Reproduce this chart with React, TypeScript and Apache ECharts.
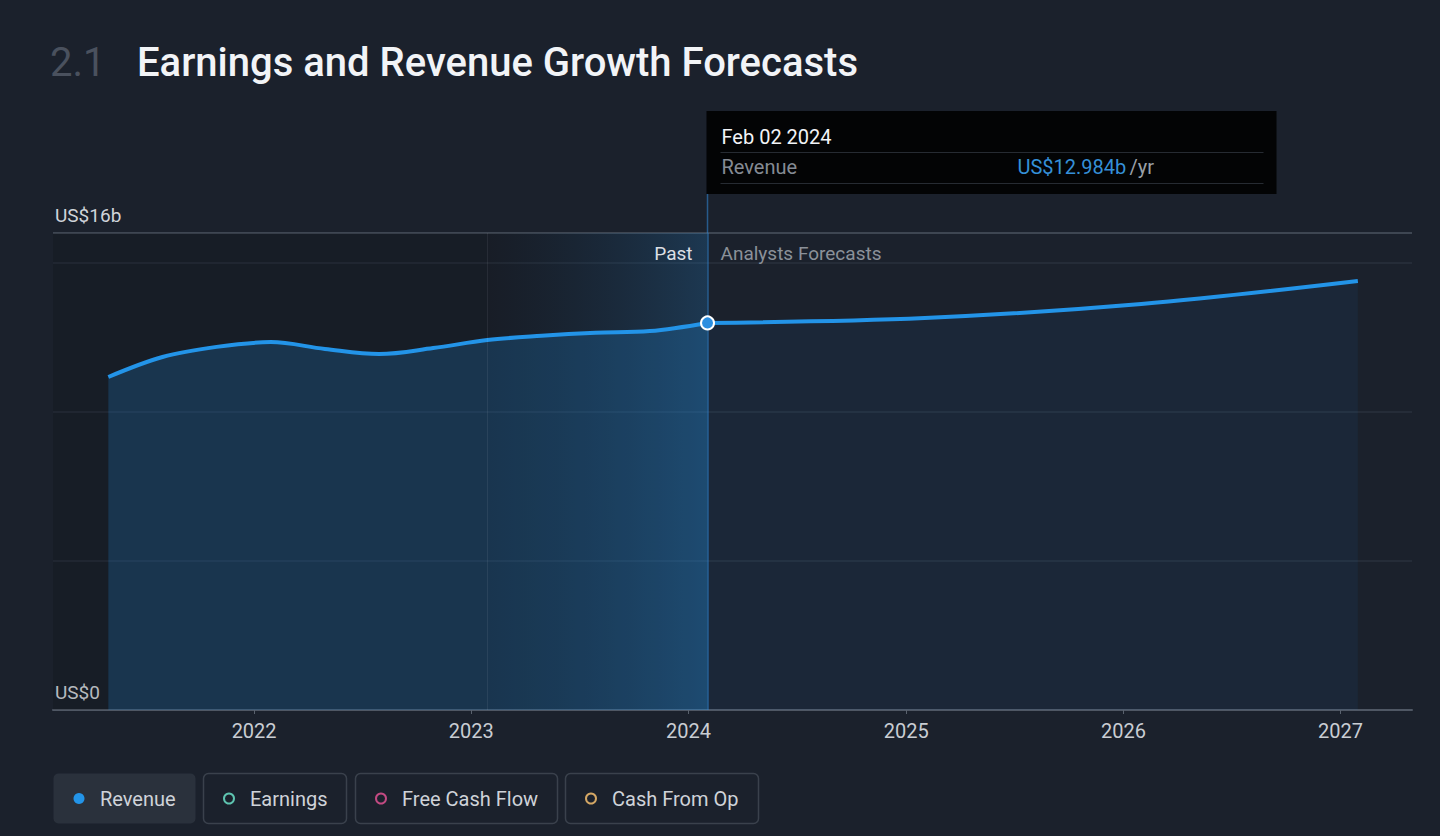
import React, { useEffect, useRef } from 'react';
import * as echarts from 'echarts';

const TITLE_NUM = '2.1';
const TITLE = 'Earnings and Revenue Growth Forecasts';
const pastDates = ['2021-05-01', '2021-07-31', '2021-10-30', '2022-01-29', '2022-04-30', '2022-07-30', '2022-10-29', '2023-01-28', '2023-04-29', '2023-07-29', '2023-10-28', '2024-02-02'];
const pastRevenue = [11.17, 11.84, 12.18, 12.34, 12.11, 11.94, 12.14, 12.41, 12.55, 12.65, 12.71, 12.984];
const forecastDates = ['2024-02-02', '2025-02-01', '2026-01-31', '2027-01-30'];
const forecastRevenue = [12.984, 13.15, 13.62, 14.39];
const yearTicks = [2022, 2023, 2024, 2025, 2026, 2027];
const yTickLabels: Record<number, string> = { 0: 'US$0', 16: 'US$16b' };
const pastStart = '2023-01-28';
const legendItems = ['Revenue', 'Earnings', 'Free Cash Flow', 'Cash From Op'];
const legendColors = ['#2394e8', '#5ec4b0', '#c24a82', '#d4a765'];
const MONTHS = ['Jan', 'Feb', 'Mar', 'Apr', 'May', 'Jun', 'Jul', 'Aug', 'Sep', 'Oct', 'Nov', 'Dec'];

const ts = (s: string) => {
  const [y, m, d] = s.split('-').map(Number);
  return Date.UTC(y, m - 1, d);
};
const fmtDate = (s: string) => {
  const [y, m, d] = s.split('-').map(Number);
  return `${MONTHS[m - 1]} ${String(d).padStart(2, '0')} ${y}`;
};

const FONT = 'Roboto';
const BG = '#1b212c';
const LINE = '#2394e8';
const X_MIN = Date.UTC(2021, 0, 28);
const X_MAX = Date.UTC(2027, 4, 1);

export default function App() {
  const ref = useRef<HTMLDivElement>(null);
  useEffect(() => {
    const chart = echarts.init(ref.current!, undefined, { renderer: 'svg' });
    const lastDate = pastDates[pastDates.length - 1];
    const lastTs = ts(lastDate);
    const lastVal = pastRevenue[pastRevenue.length - 1];
    const yearTs = yearTicks.map((y) => Date.UTC(y, 0, 1));
    const option: any = {
      animation: false,
      backgroundColor: BG,
      textStyle: { fontFamily: FONT },
      grid: { left: 53, right: 28, top: 233, bottom: 126 },
      xAxis: {
        type: 'value',
        min: X_MIN,
        max: X_MAX,
        axisLine: { show: true, lineStyle: { color: '#4f5764', width: 2 } },
        axisTick: {
          show: true,
          length: 4,
          customValues: yearTs,
          lineStyle: { color: '#5a626e' },
        },
        axisLabel: {
          customValues: yearTs,
          formatter: (v: number) => String(new Date(v).getUTCFullYear()),
          color: '#c9cdd3',
          fontSize: 20,
          margin: 11,
          fontFamily: FONT,
        },
        splitLine: { show: false },
      },
      yAxis: {
        type: 'value',
        min: 0,
        max: 16,
        interval: 5,
        axisLine: { show: false },
        axisTick: { show: false },
        axisLabel: {
          inside: true,
          showMinLabel: true,
          showMaxLabel: true,
          margin: 2,
          verticalAlign: 'bottom',
          padding: [0, 0, 8, 0],
          color: '#d0d4da',
          fontSize: 19,
          fontFamily: FONT,
          formatter: (v: number) => yTickLabels[v] ?? '',
        },
        splitLine: {
          show: true,
          lineStyle: { color: ['rgba(0,0,0,0)', '#2a313c', '#2a313c', '#2a313c', '#4b535f'], width: 1.5 },
        },
      },
      series: [
        {
          name: 'Revenue',
          type: 'line',
          data: pastDates.map((d, i) => [ts(d), pastRevenue[i]]),
          smooth: 0.35,
          showSymbol: false,
          lineStyle: { color: LINE, width: 4 },
          itemStyle: { color: LINE },
          areaStyle: { color: 'rgba(35,148,232,0.3)' },
          z: 3,
          markArea: {
            silent: true,
            data: [
              [
                { xAxis: X_MIN, itemStyle: { color: 'rgba(0,0,0,0.12)' } },
                { xAxis: ts(pastStart) },
              ],
              [
                {
                  xAxis: ts(pastStart),
                  itemStyle: {
                    color: new echarts.graphic.LinearGradient(0, 0, 1, 0, [
                      { offset: 0, color: 'rgba(0,0,0,0.12)' },
                      { offset: 1, color: 'rgba(35,148,232,0.2)' },
                    ]),
                  },
                  label: {
                    show: true,
                    position: 'insideTopRight',
                    formatter: 'Past',
                    color: '#dcdfe4',
                    fontSize: 19,
                    fontFamily: FONT,
                    distance: 5,
                    offset: [-10, 6],
                  },
                },
                { xAxis: lastTs },
              ],
              [
                {
                  xAxis: lastTs,
                  itemStyle: { color: 'rgba(0,0,0,0)' },
                  label: {
                    show: true,
                    position: 'insideTopLeft',
                    formatter: 'Analysts Forecasts',
                    color: '#8b9199',
                    fontSize: 19,
                    fontFamily: FONT,
                    distance: 5,
                    offset: [8, 6],
                  },
                },
                { xAxis: X_MAX },
              ],
            ],
          },
          markLine: {
            silent: true,
            symbol: 'none',
            label: { show: false },
            data: [
              { xAxis: ts(pastStart), lineStyle: { color: 'rgba(255,255,255,0.07)', width: 1, type: 'solid' } },
              { xAxis: lastTs, lineStyle: { color: 'rgba(50,140,220,0.55)', width: 1.5, type: 'solid' } },
            ],
          },
        },
        {
          name: 'Revenue Forecast',
          type: 'line',
          data: forecastDates.map((d, i) => [ts(d), forecastRevenue[i]]),
          smooth: 0.35,
          showSymbol: false,
          lineStyle: { color: LINE, width: 4 },
          itemStyle: { color: LINE },
          areaStyle: { color: 'rgba(35,148,232,0.09)' },
          z: 3,
        },
        {
          name: 'Revenue Point',
          type: 'scatter',
          data: [[lastTs, lastVal]],
          symbol: 'circle',
          symbolSize: 13,
          itemStyle: { color: '#2b8ee0', borderColor: '#ffffff', borderWidth: 2, opacity: 1 },
          z: 10,
        },
      ],
    };
    chart.setOption(option);

    const [px] = chart.convertToPixel({ gridIndex: 0 }, [lastTs, lastVal]) as number[];
    const gridTop = chart.convertToPixel({ yAxisIndex: 0 }, 16) as number;
    const tipLeft = px - 1;
    const tipW = 570;
    const legendBoxes = [
      { x: 53, w: 142, filled: true },
      { x: 203, w: 143, filled: false },
      { x: 355, w: 202, filled: false },
      { x: 565, w: 193, filled: false },
    ];
    const graphic: any[] = [
      { type: 'text', x: 50, y: 62, style: { text: TITLE_NUM, fill: '#4a515e', font: `400 40px ${FONT}`, verticalAlign: 'middle' } },
      { type: 'text', x: 137, y: 62, style: { text: TITLE, fill: '#f2f4f7', font: `500 40px ${FONT}`, verticalAlign: 'middle' } },
      { type: 'line', shape: { x1: px, y1: 194, x2: px, y2: gridTop }, style: { stroke: 'rgba(50,140,220,0.55)', lineWidth: 1.5 } },
      { type: 'rect', shape: { x: tipLeft, y: 111, width: tipW, height: 83 }, style: { fill: '#030405' } },
      { type: 'text', x: px + 14, y: 137, style: { text: fmtDate(lastDate), fill: '#f2f4f7', font: `20px ${FONT}`, verticalAlign: 'middle' } },
      { type: 'line', shape: { x1: px + 13, y1: 152.5, x2: px + 556, y2: 152.5 }, style: { stroke: '#262b32', lineWidth: 1 } },
      { type: 'text', x: px + 14, y: 167, style: { text: legendItems[0], fill: '#858b94', font: `20px ${FONT}`, verticalAlign: 'middle' } },
      {
        type: 'text',
        x: px + 310,
        y: 167,
        style: {
          text: `{v|US$${lastVal.toFixed(3)}b} {u|/yr}`,
          verticalAlign: 'middle',
          rich: {
            v: { fill: '#3590d8', font: `20px ${FONT}` },
            u: { fill: '#9aa0a8', font: `20px ${FONT}` },
          },
        },
      },
      { type: 'line', shape: { x1: px + 13, y1: 183.5, x2: px + 556, y2: 183.5 }, style: { stroke: '#262b32', lineWidth: 1 } },
    ];
    legendItems.forEach((name, i) => {
      const b = legendBoxes[i];
      graphic.push({
        type: 'rect',
        shape: { x: b.x + 0.5, y: 773.5, width: b.w, height: 50, r: 5 },
        style: b.filled ? { fill: '#2a313c' } : { fill: 'rgba(0,0,0,0)', stroke: '#3a414c', lineWidth: 1.5 },
      });
      graphic.push({
        type: 'circle',
        shape: { cx: b.x + 26, cy: 798.5, r: b.filled ? 5.5 : 5 },
        style: b.filled ? { fill: legendColors[i] } : { fill: 'rgba(0,0,0,0)', stroke: legendColors[i], lineWidth: 2 },
      });
      graphic.push({
        type: 'text',
        x: b.x + 47,
        y: 799,
        style: { text: name, fill: '#cfd3d9', font: `20px ${FONT}`, verticalAlign: 'middle' },
      });
    });
    chart.setOption({ graphic });
    return () => chart.dispose();
  }, []);
  return <div ref={ref} style={{ position: 'absolute', left: 0, top: 0, width: 1440, height: 836 }} />;
}
